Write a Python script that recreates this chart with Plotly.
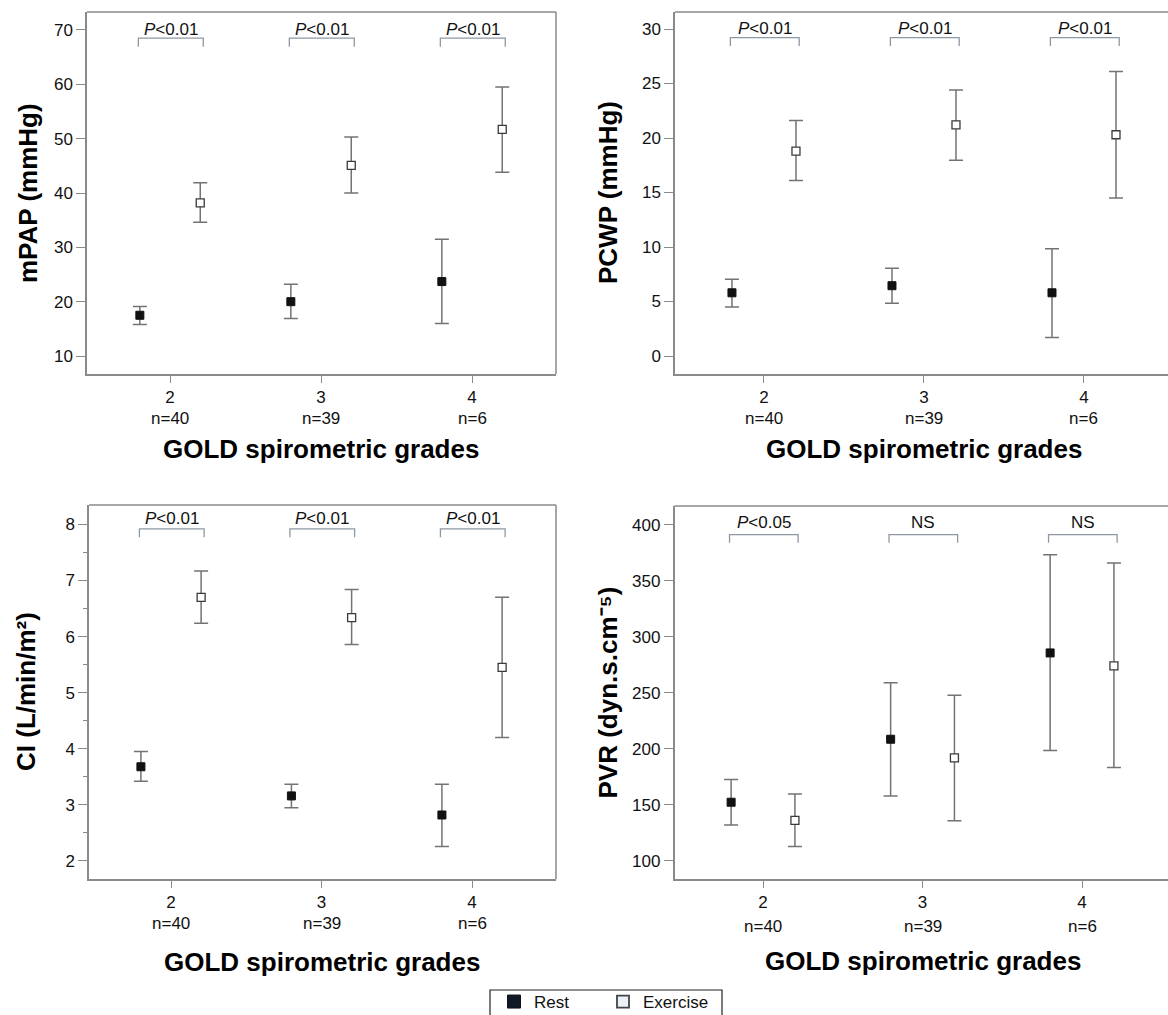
import plotly.graph_objects as go

# ---------------- data ----------------
grades = [2, 3, 4]
n_labels = ["n=40", "n=39", "n=6"]

mpap_rest_mean = [17.5, 20.0, 23.7]
mpap_rest_lo = [15.8, 16.9, 16.0]
mpap_rest_hi = [19.1, 23.2, 31.5]
mpap_ex_mean = [38.2, 45.1, 51.7]
mpap_ex_lo = [34.6, 40.0, 43.8]
mpap_ex_hi = [41.9, 50.3, 59.5]
mpap_p = ["P<0.01", "P<0.01", "P<0.01"]

pcwp_rest_mean = [5.8, 6.45, 5.8]
pcwp_rest_lo = [4.5, 4.85, 1.7]
pcwp_rest_hi = [7.05, 8.05, 9.85]
pcwp_ex_mean = [18.8, 21.2, 20.3]
pcwp_ex_lo = [16.1, 17.95, 14.5]
pcwp_ex_hi = [21.6, 24.4, 26.1]
pcwp_p = ["P<0.01", "P<0.01", "P<0.01"]

ci_rest_mean = [3.68, 3.16, 2.82]
ci_rest_lo = [3.42, 2.95, 2.26]
ci_rest_hi = [3.95, 3.37, 3.37]
ci_ex_mean = [6.70, 6.34, 5.45]
ci_ex_lo = [6.24, 5.86, 4.20]
ci_ex_hi = [7.17, 6.84, 6.70]
ci_p = ["P<0.01", "P<0.01", "P<0.01"]

pvr_rest_mean = [152.4, 208.6, 285.6]
pvr_rest_lo = [132.0, 158.0, 198.6]
pvr_rest_hi = [172.7, 259.0, 373.2]
pvr_ex_mean = [136.2, 191.9, 274.1]
pvr_ex_lo = [112.8, 135.9, 183.4]
pvr_ex_hi = [159.7, 247.9, 365.9]
pvr_p = ["P<0.05", "NS", "NS"]

series_names = ["Rest", "Exercise"]
y_titles = ["mPAP (mmHg)", "PCWP (mmHg)", "CI (L/min/m²)", "PVR (dyn.s.cm⁻⁵)"]
x_title = "GOLD spirometric grades"

# ---------------- layout helpers ----------------
W, H = 1168, 1015
FONT = "Arial, 'Liberation Sans', sans-serif"
AXIS_COL = "#8a8a8a"
ERR_COL = "#737373"
BRACKET_COL = "#8d98a4"
TXT_COL = "#111111"
OFF = 0.2


def px_x(p):
    return p / W


def px_y(p):
    return 1 - p / H


panels = [
    dict(data=(mpap_rest_mean, mpap_rest_lo, mpap_rest_hi, mpap_ex_mean, mpap_ex_lo, mpap_ex_hi, mpap_p),
         dom_x=(87, 556), dom_y=(12, 374), xr=(1.45, 4.556), yr=(6.69, 73.31), dtick=10,
         br=(68.5, 66.9), lab=70.1, minor=None, ytx=28, ty_n=418, ty_t=449, right=True),
    dict(data=(pcwp_rest_mean, pcwp_rest_lo, pcwp_rest_hi, pcwp_ex_mean, pcwp_ex_lo, pcwp_ex_hi, pcwp_p),
         dom_x=(675, 1168), dom_y=(12, 374), xr=(1.444, 4.525), yr=(-1.65, 31.56), dtick=5,
         br=(29.2, 28.45), lab=30.05, minor=None, ytx=608, ty_n=418, ty_t=449, right=False),
    dict(data=(ci_rest_mean, ci_rest_lo, ci_rest_hi, ci_ex_mean, ci_ex_lo, ci_ex_hi, ci_p),
         dom_x=(89, 556), dom_y=(505, 879), xr=(1.455, 4.558), yr=(1.679, 8.346), dtick=1,
         br=(7.92, 7.77), lab=8.11, minor=0.5, ytx=26, ty_n=923, ty_t=962, right=True),
    dict(data=(pvr_rest_mean, pvr_rest_lo, pvr_rest_hi, pvr_ex_mean, pvr_ex_lo, pvr_ex_hi, pvr_p),
         dom_x=(674.5, 1168), dom_y=(506, 879), xr=(1.445, 4.539), yr=(83.9, 416.7), dtick=50,
         br=(391.2, 383.9), lab=401.8, minor=None, ytx=607, ty_n=926, ty_t=961, right=False),
]

fig = go.Figure()
annotations = []
shapes = []

REST_MARKER = dict(symbol="square", size=8, color="#111111", line=dict(color="#111111", width=1))
EX_MARKER = dict(symbol="square", size=8, color="#ffffff", line=dict(color="#3a3a3a", width=1.3))

for i, pn in enumerate(panels):
    k = "" if i == 0 else str(i + 1)
    xa, ya = "x" + k, "y" + k
    rm, rlo, rhi, em, elo, ehi, pv = pn["data"]

    xr_pos = [g - OFF for g in grades]
    xe_pos = [g + OFF for g in grades]

    fig.add_trace(go.Scatter(
        x=xr_pos, y=rm, xaxis=xa, yaxis=ya, mode="markers", name=series_names[0],
        showlegend=False, marker=REST_MARKER,
        error_y=dict(type="data", symmetric=False,
                     array=[h - m for h, m in zip(rhi, rm)],
                     arrayminus=[m - l for m, l in zip(rm, rlo)],
                     color=ERR_COL, thickness=1.5, width=7),
    ))
    fig.add_trace(go.Scatter(
        x=xe_pos, y=em, xaxis=xa, yaxis=ya, mode="markers", name=series_names[1],
        showlegend=False, marker=EX_MARKER,
        error_y=dict(type="data", symmetric=False,
                     array=[h - m for h, m in zip(ehi, em)],
                     arrayminus=[m - l for m, l in zip(em, elo)],
                     color=ERR_COL, thickness=1.5, width=7),
    ))

    # brackets
    top, bot = pn["br"]
    for g, p in zip(grades, pv):
        x0, x1 = g - 0.21, g + 0.22
        fig.add_trace(go.Scatter(
            x=[x0, x0, x1, x1], y=[bot, top, top, bot], xaxis=xa, yaxis=ya,
            mode="lines", line=dict(color=BRACKET_COL, width=1.3),
            showlegend=False, hoverinfo="skip"))
        if p.startswith("P"):
            txt = "<i>P</i>" + p[1:].replace("<", "&lt;")
        else:
            txt = p
        annotations.append(dict(
            x=(x0 + x1) / 2, y=pn["lab"], xref=xa, yref=ya, text=txt, showarrow=False,
            font=dict(family=FONT, size=17, color=TXT_COL), yanchor="middle"))

    # n labels
    for g, nl in zip(grades, n_labels):
        annotations.append(dict(
            x=g, y=px_y(pn["ty_n"]), xref=xa, yref="paper", text=nl, showarrow=False,
            font=dict(family=FONT, size=17, color=TXT_COL), yanchor="middle"))

    # x title
    annotations.append(dict(
        x=3, y=px_y(pn["ty_t"]), xref=xa, yref="paper", text="<b>" + x_title + "</b>",
        showarrow=False, font=dict(family=FONT, size=26, color="#000000"), yanchor="middle"))

    # y title
    dy0, dy1 = pn["dom_y"]
    annotations.append(dict(
        x=px_x(pn["ytx"]), y=px_y((dy0 + dy1) / 2), xref="paper", yref="paper",
        text="<b>" + y_titles[i] + "</b>", textangle=-90, showarrow=False,
        font=dict(family=FONT, size=26, color="#000000"), xanchor="center", yanchor="middle"))

    # top (and right) border of the box
    shapes.append(dict(type="line", xref=xa + " domain", yref=ya + " domain",
                       x0=0, x1=1, y0=1, y1=1, line=dict(color=AXIS_COL, width=1.5)))
    if pn["right"]:
        shapes.append(dict(type="line", xref=xa + " domain", yref=ya + " domain",
                           x0=1, x1=1, y0=0, y1=1, line=dict(color=AXIS_COL, width=1.5)))

    dx0, dx1 = pn["dom_x"]
    xaxis = dict(domain=[px_x(dx0), min(1.0, px_x(dx1))], range=list(pn["xr"]),
                 anchor=ya, tickmode="array", tickvals=grades, ticktext=[str(g) for g in grades],
                 showline=True, linecolor=AXIS_COL, linewidth=1.5, ticks="outside",
                 ticklen=7, tickwidth=1.2, tickcolor=AXIS_COL, showgrid=False, zeroline=False,
                 tickfont=dict(family=FONT, size=17, color=TXT_COL), fixedrange=True)
    yaxis = dict(domain=[px_y(dy1), px_y(dy0)], range=list(pn["yr"]), anchor=xa,
                 dtick=pn["dtick"], showline=True, linecolor=AXIS_COL, linewidth=1.5,
                 ticks="outside", ticklen=9, tickwidth=1.2, tickcolor=AXIS_COL,
                 showgrid=False, zeroline=False,
                 tickfont=dict(family=FONT, size=17, color=TXT_COL), fixedrange=True)
    if pn["minor"]:
        yaxis["minor"] = dict(dtick=pn["minor"], ticks="outside", ticklen=4,
                              tickcolor=AXIS_COL, tickwidth=1, showgrid=False)
    fig.layout["xaxis" + k] = xaxis
    fig.layout["yaxis" + k] = yaxis

# legend-only entries
fig.add_trace(go.Scatter(x=[None], y=[None], mode="markers", name=series_names[0],
                         marker=dict(symbol="square", size=13, color="#111827",
                                     line=dict(color="#111111", width=1))))
fig.add_trace(go.Scatter(x=[None], y=[None], mode="markers", name=series_names[1],
                         marker=dict(symbol="square", size=12, color="#eaf1f8",
                                     line=dict(color="#444444", width=1.8))))

# legend frame
shapes.append(dict(type="rect", xref="paper", yref="paper",
                   x0=px_x(490), x1=px_x(722), y0=px_y(1016), y1=px_y(990),
                   line=dict(color="#222222", width=1.2), fillcolor="white", layer="below"))

fig.update_layout(
    width=W, height=H, margin=dict(l=0, r=0, t=0, b=0, autoexpand=False),
    paper_bgcolor="white", plot_bgcolor="white",
    annotations=annotations, shapes=shapes,
    font=dict(family=FONT, size=17, color=TXT_COL),
    showlegend=True,
    legend=dict(orientation="h", x=px_x(494), xanchor="left", y=px_y(984), yanchor="top",
                borderwidth=0, bgcolor="rgba(0,0,0,0)",
                font=dict(family=FONT, size=17, color=TXT_COL),
                itemwidth=30, entrywidth=64, entrywidthmode="pixels"),
)

fig.write_html("out.html", config={"displayModeBar": False},
               post_script="document.body.style.margin='0';")
